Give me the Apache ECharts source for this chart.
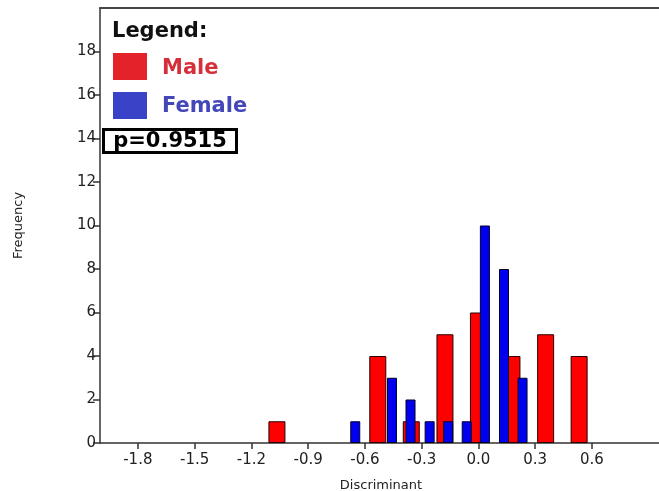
<!DOCTYPE html>
<html>
<head>
<meta charset="utf-8">
<script src="https://cdn.jsdelivr.net/npm/echarts@6/dist/echarts.min.js"></script>
<style>
  html, body { margin: 0; padding: 0; background: #fff; overflow: hidden; }
  #chart { width: 659px; height: 491px; }
</style>
</head>
<body>
<div id="chart"></div>
<script>
// histogram bins (bin centres) and counts
const maleBins = [-1.065, -0.532, -0.355, -0.177, 0.0, 0.177, 0.355, 0.532]
const maleCounts = [1, 4, 1, 5, 6, 4, 5, 4]
const femaleBins = [-0.651, -0.457, -0.359, -0.258, -0.16, -0.062, 0.034, 0.135, 0.233]
const femaleCounts = [1, 3, 2, 1, 1, 1, 10, 8, 3]

const xTicks = [-1.8, -1.5, -1.2, -0.9, -0.6, -0.3, 0.0, 0.3, 0.6]
const yTicks = [0, 2, 4, 6, 8, 10, 12, 14, 16, 18]
const pValue = "p=0.9515"

const chart = echarts.init(document.getElementById("chart"))

const font = "DejaVu Sans"
const axisColor = "#333"

const option = {
  backgroundColor: "#fff",
  animation: false,
  grid: { left: 100, right: -3, top: 8, bottom: 48, outerBoundsMode: "none" },
  xAxis: [
    {
      type: "value",
      min: -2.0,
      max: 0.97,
      name: "Discriminant",
      nameLocation: "middle",
      nameGap: 36,
      nameTextStyle: { fontFamily: font, fontSize: 13, color: "#222" },
      axisLine: { show: true, onZero: false, lineStyle: { color: axisColor, width: 1.5 } },
      axisTick: { show: true, length: 6, customValues: xTicks, lineStyle: { color: axisColor, width: 1.5 } },
      axisLabel: {
        customValues: xTicks,
        fontFamily: font,
        fontSize: 15,
        color: "#222",
        margin: 10,
        formatter: (v) => v.toFixed(1),
      },
      splitLine: { show: false },
    },
    {
      // top frame line, also the base for the female bars
      type: "value",
      position: "top",
      min: -2.0,
      max: 0.97,
      axisLine: { show: true, onZero: false, lineStyle: { color: "#444", width: 2 } },
      axisTick: { show: false },
      axisLabel: { show: false },
      splitLine: { show: false },
    },
  ],
  yAxis: {
    type: "value",
    min: 0,
    max: 20,
    name: "Frequency",
    nameLocation: "middle",
    nameRotate: 90,
    nameGap: 75,
    nameTextStyle: { fontFamily: font, fontSize: 13, color: "#222" },
    axisLine: { show: true, onZero: false, lineStyle: { color: axisColor, width: 1.5 } },
    axisTick: { show: true, length: 7, customValues: yTicks, lineStyle: { color: axisColor, width: 1.5 } },
    axisLabel: { customValues: yTicks, fontFamily: font, fontSize: 15, color: "#222", margin: 4 },
    splitLine: { show: false },
  },
  series: [
    {
      name: "Male",
      type: "bar",
      xAxisIndex: 0,
      barWidth: 17,
      data: maleBins.map((x, i) => [x, maleCounts[i]]),
      itemStyle: { color: "#ff0000", borderColor: "#2a0000", borderWidth: 1 },
    },
    {
      name: "Female",
      type: "bar",
      xAxisIndex: 1,
      barWidth: 10,
      data: femaleBins.map((x, i) => [x, femaleCounts[i]]),
      itemStyle: { color: "#0000ee", borderColor: "#00002a", borderWidth: 1 },
    },
  ],
  graphic: [
    {
      type: "text",
      left: 112,
      top: 21,
      style: { text: "Legend:", fontFamily: font, fontWeight: "bold", fontSize: 21, fill: "#111" },
    },
    { type: "rect", shape: { x: 113, y: 53, width: 34, height: 27 }, style: { fill: "#e3222a" } },
    { type: "rect", shape: { x: 113, y: 92, width: 34, height: 27 }, style: { fill: "#3a43c8" } },
    {
      type: "text",
      x: 162,
      y: 69,
      style: { text: "Male", fontFamily: font, fontWeight: "bold", fontSize: 21, fill: "#d5303a", verticalAlign: "middle" },
    },
    {
      type: "text",
      x: 162,
      y: 107,
      style: { text: "Female", fontFamily: font, fontWeight: "bold", fontSize: 21, fill: "#4447b8", verticalAlign: "middle" },
    },
    {
      type: "rect",
      shape: { x: 103.5, y: 129.5, width: 133, height: 23 },
      style: { fill: "#fff", stroke: "#000", lineWidth: 3 },
    },
    {
      type: "text",
      x: 170,
      y: 141.5,
      style: { text: pValue, fontFamily: font, fontWeight: "bold", fontSize: 21, fill: "#000", align: "center", verticalAlign: "middle" },
    },
  ],
}

chart.setOption(option)
</script>
</body>
</html>
